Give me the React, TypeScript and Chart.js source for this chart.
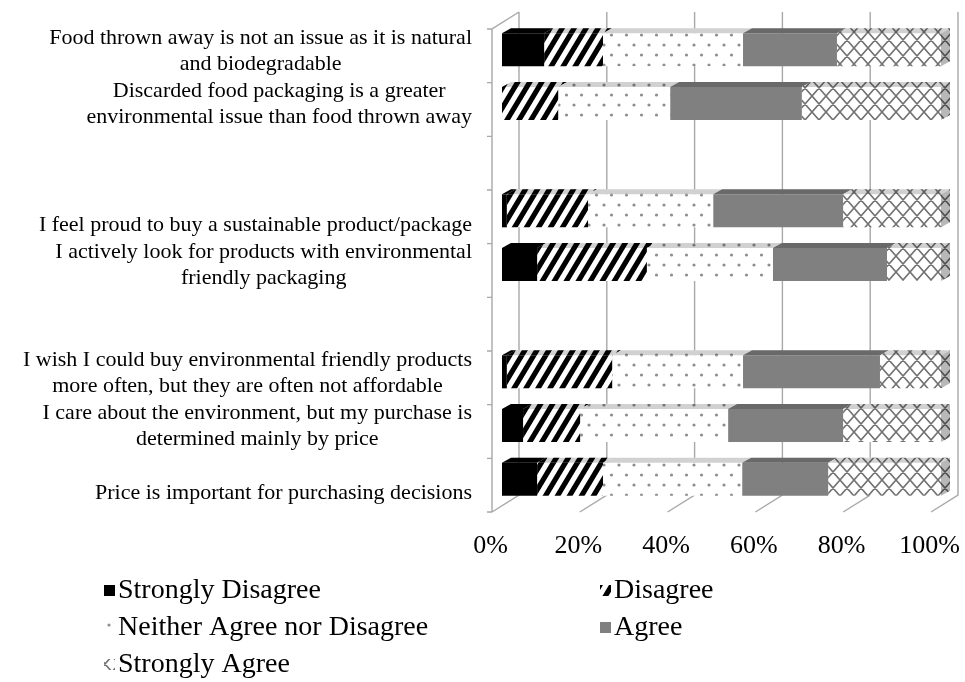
import { useEffect, useRef } from "react";
import { Chart, registerables } from "chart.js";

Chart.register(...registerables);

// Statements, top to bottom; empty entries are spacer rows between groups.
const CATEGORIES: string[][] = [
  ["Food thrown away is not an issue as it is natural", "and biodegradable"],
  ["Discarded food packaging is a greater", "environmental issue than food thrown away"],
  [],
  ["I feel proud to buy a sustainable product/package"],
  ["I actively look for products with environmental", "friendly packaging"],
  [],
  ["I wish I could buy environmental friendly products", "more often, but they are often not affordable"],
  ["I care about the environment, but my purchase is", "determined mainly by price"],
  ["Price is important for purchasing decisions"],
];

const SERIES_NAMES = [
  "Strongly Disagree",
  "Disagree",
  "Neither Agree nor Disagree",
  "Agree",
  "Strongly Agree",
];

// Share of respondents (%) per statement
const STRONGLY_DISAGREE = [9.6, 0, null, 1.1, 8.0, null, 1.1, 4.8, 8.0];
const DISAGREE = [13.4, 12.8, null, 18.5, 25.0, null, 24.0, 13.0, 15.0];
const NEITHER = [31.9, 25.5, null, 28.5, 28.7, null, 29.8, 33.7, 31.7];
const AGREE = [21.4, 30.0, null, 29.6, 26.0, null, 31.2, 26.2, 19.6];
const STRONGLY_AGREE = [23.7, 31.7, null, 22.3, 12.3, null, 13.9, 22.3, 25.7];

const X_TICKS = [0, 20, 40, 60, 80, 100];

const FONT = '"Liberation Serif", "Times New Roman", serif';
const GRID = "#a8a8a8";
// oblique projection offsets relative to the bars' front faces
const BACK = { dx: 17, dy: -11 };
const FRONT = { dx: -10, dy: 6 };
const DEPTH = { dx: 9, dy: -5 };

function tile(w: number, h: number, draw: (g: CanvasRenderingContext2D, w: number, h: number) => void) {
  const c = document.createElement("canvas");
  c.width = w;
  c.height = h;
  const g = c.getContext("2d") as CanvasRenderingContext2D;
  g.fillStyle = "#ffffff";
  g.fillRect(0, 0, w, h);
  draw(g, w, h);
  return g.createPattern(c, "repeat") as CanvasPattern;
}

function makeFills() {
  const stripes = tile(12, 20, (g, w, h) => {
    g.fillStyle = "#000000";
    for (let k = -1; k <= 1; k++) {
      g.beginPath();
      g.moveTo(k * w, h);
      g.lineTo(k * w + 6, h);
      g.lineTo(k * w + 6 + w, 0);
      g.lineTo(k * w + w, 0);
      g.closePath();
      g.fill();
    }
  });
  const dots = tile(15, 20, (g) => {
    g.fillStyle = "#8e8e8e";
    for (const [cx, cy] of [[4, 5], [11.5, 15]]) {
      g.beginPath();
      g.arc(cx, cy, 1.6, 0, Math.PI * 2);
      g.fill();
    }
  });
  const hatch = tile(14, 16, (g, w, h) => {
    g.strokeStyle = "#727272";
    g.lineWidth = 1.6;
    g.beginPath();
    for (const ox of [-w, 0, w]) {
      for (const oy of [-h, 0, h]) {
        g.moveTo(ox, oy);
        g.lineTo(ox + w, oy + h);
        g.moveTo(ox + w, oy);
        g.lineTo(ox, oy + h);
      }
    }
    g.stroke();
  });
  return ["#000000", stripes, dots, "#808080", hatch];
}

function quad(ctx: CanvasRenderingContext2D, pts: number[][], fill: any, shade: number) {
  ctx.beginPath();
  ctx.moveTo(pts[0][0], pts[0][1]);
  for (let i = 1; i < pts.length; i++) ctx.lineTo(pts[i][0], pts[i][1]);
  ctx.closePath();
  ctx.fillStyle = fill;
  ctx.fill();
  ctx.fillStyle = `rgba(0,0,0,${shade})`;
  ctx.fill();
}

const scene3d = {
  id: "scene3d",
  beforeDatasetsDraw(chart: any) {
    const { ctx, chartArea: a } = chart;
    const x = chart.scales.x;
    const y = chart.scales.y;
    ctx.save();
    ctx.strokeStyle = GRID;
    ctx.lineWidth = 1.4;
    ctx.beginPath();
    // back wall gridlines running into the floor
    for (const v of X_TICKS) {
      const px = x.getPixelForValue(v);
      ctx.moveTo(px + BACK.dx, a.top + BACK.dy);
      ctx.lineTo(px + BACK.dx, a.bottom + BACK.dy);
      ctx.lineTo(px + FRONT.dx, a.bottom + FRONT.dy);
    }
    // left wall edges
    const x0 = x.getPixelForValue(0);
    ctx.moveTo(x0 + BACK.dx, a.top + BACK.dy);
    ctx.lineTo(x0 + FRONT.dx, a.top + FRONT.dy);
    ctx.lineTo(x0 + FRONT.dx, a.bottom + FRONT.dy);
    // category tick marks
    const n = chart.data.labels.length;
    for (let k = 0; k <= n; k++) {
      const py = y.getPixelForValue(k - 0.5) + FRONT.dy;
      ctx.moveTo(x0 + FRONT.dx - 5, py);
      ctx.lineTo(x0 + FRONT.dx, py);
    }
    ctx.stroke();
    ctx.restore();
  },
  afterDatasetsDraw(chart: any) {
    const { ctx } = chart;
    const metas = chart.getSortedVisibleDatasetMetas();
    const n = chart.data.labels.length;
    ctx.save();
    for (let i = 0; i < n; i++) {
      let last: any = null;
      for (const meta of metas) {
        const el = meta.data[i];
        if (!el) continue;
        const p = el.getProps(["x", "y", "base", "height"], true);
        if (!(Math.abs(p.x - p.base) > 0.5)) continue;
        const fill = chart.data.datasets[meta.index].backgroundColor;
        const top = p.y - p.height / 2;
        const l = Math.min(p.x, p.base);
        const r = Math.max(p.x, p.base);
        quad(ctx, [[l, top], [r, top], [r + DEPTH.dx, top + DEPTH.dy], [l + DEPTH.dx, top + DEPTH.dy]], fill, 0.18);
        if (!last || r >= last.r) last = { r, top, bottom: top + p.height, fill };
      }
      if (last) {
        quad(
          ctx,
          [
            [last.r, last.top],
            [last.r + DEPTH.dx, last.top + DEPTH.dy],
            [last.r + DEPTH.dx, last.bottom + DEPTH.dy],
            [last.r, last.bottom],
          ],
          last.fill,
          0.28
        );
      }
    }
    ctx.restore();
  },
  afterDraw(chart: any) {
    const { ctx, chartArea: a } = chart;
    const y = chart.scales.y;
    ctx.save();
    // statement labels: each centred on itself, widest line flush against the axis
    ctx.font = `22px ${FONT}`;
    ctx.fillStyle = "#000";
    ctx.textAlign = "center";
    ctx.textBaseline = "middle";
    const lineH = 26;
    CATEGORIES.forEach((lines, i) => {
      if (!lines.length) return;
      const cy = y.getPixelForValue(i) + 1;
      const w = Math.max(...lines.map((l) => ctx.measureText(l).width));
      const cx = a.left - 30 - w / 2;
      lines.forEach((l, j) => {
        ctx.fillText(l, cx, cy + lineH / 2 - (lines.length - 1 - j) * lineH);
      });
    });

    // legend, two columns
    const colX = [104, 600];
    const rowY0 = 591;
    const rowStep = 37;
    ctx.font = `28px ${FONT}`;
    ctx.textAlign = "left";
    chart.data.datasets.forEach((ds: any, i: number) => {
      const lx = colX[i % 2];
      const ly = rowY0 + Math.floor(i / 2) * rowStep;
      ctx.fillStyle = ds.backgroundColor;
      ctx.fillRect(lx, ly - 6, 11, 11);
      ctx.fillStyle = "#000";
      ctx.fillText(ds.label, lx + 14, ly);
    });
    ctx.restore();
  },
};

export default function App() {
  const ref = useRef<HTMLCanvasElement>(null);

  useEffect(() => {
    const canvas = ref.current;
    if (!canvas) return;
    const fills = makeFills();
    const values = [STRONGLY_DISAGREE, DISAGREE, NEITHER, AGREE, STRONGLY_AGREE];
    const chart = new Chart(canvas, {
      type: "bar",
      data: {
        labels: CATEGORIES.map((c) => c.join(" ")),
        datasets: SERIES_NAMES.map((name, i) => ({
          label: name,
          data: values[i] as any,
          backgroundColor: fills[i] as any,
          borderWidth: 0,
          barPercentage: 0.615,
          categoryPercentage: 1,
        })),
      },
      options: {
        indexAxis: "y",
        responsive: false,
        animation: false,
        devicePixelRatio: 1,
        events: [],
        layout: { padding: { left: 502, right: 24, top: 23, bottom: 0 } },
        plugins: { legend: { display: false }, tooltip: { enabled: false } },
        scales: {
          x: {
            type: "linear",
            stacked: true,
            min: 0,
            max: 100,
            grid: { display: false, drawTicks: false },
            border: { display: false },
            afterBuildTicks: (s: any) => {
              s.ticks = X_TICKS.map((v) => ({ value: v }));
            },
            afterFit: (s: any) => {
              s.height = 176;
              s.paddingLeft = 0;
              s.paddingRight = 0;
            },
            ticks: {
              padding: 25,
              labelOffset: -11.5,
              color: "#000",
              maxRotation: 0,
              autoSkip: false,
              font: { family: FONT, size: 26 },
              callback: (v: any) => `${v}%`,
            },
          },
          y: { type: "category", stacked: true, display: false },
        },
      } as any,
      plugins: [scene3d],
    });
    return () => chart.destroy();
  }, []);

  return (
    <div style={{ position: "absolute", left: 0, top: 0, width: 965, height: 682, background: "#fff" }}>
      <canvas ref={ref} width={965} height={682} style={{ display: "block", width: 965, height: 682 }} />
    </div>
  );
}
